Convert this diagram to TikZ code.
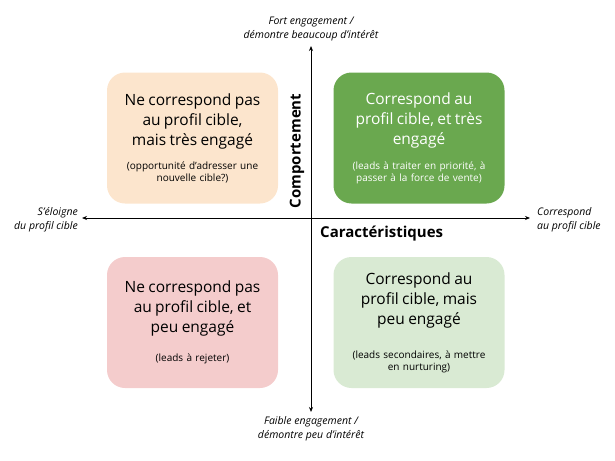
\documentclass[tikz,border=0pt]{standalone}
\usepackage{fontspec}
\setmainfont{Open Sans}
\usetikzlibrary{arrows.meta, positioning}

\definecolor{peach}{HTML}{FCE5CD}
\definecolor{leafgreen}{HTML}{6AA84F}
\definecolor{rosepink}{HTML}{F4CCCC}
\definecolor{palegreen}{HTML}{D9EAD3}

\newcommand{\quadtext}[3]{\fontsize{15.5}{20}\selectfont #1\par\vspace{#2}\fontsize{10}{15}\selectfont #3}

\begin{document}
\begin{tikzpicture}[
    x=1pt, y=-1pt,
    >=Stealth,
    quadrant/.style={rectangle, rounded corners=18pt, minimum width=171pt, minimum height=131pt, text width=165pt, align=center, inner sep=0pt},
    axislabel/.style={font=\fontsize{10.5}{14}\selectfont\itshape, inner sep=0pt},
    axistitle/.style={font=\fontsize{15}{16}\selectfont\bfseries, inner sep=0pt},
    axis/.style={{Stealth[length=5pt,width=4pt]}-{Stealth[length=5pt,width=4pt]}, line width=0.8pt}
]
\useasboundingbox (0,0) rectangle (615,460);

% axes
\coordinate (up) at (311,46);
\coordinate (down) at (311,412);
\coordinate (west) at (82,218);
\coordinate (east) at (530,218);
\draw[axis] (down) -- (up);
\draw[axis] (west) -- (east);

\node[axislabel, align=center, anchor=south] (fort) at (311,41) {Fort engagement /\\démontre beaucoup d’intérêt};
\node[axislabel, align=center, anchor=north] (faible) at (311,416) {Faible engagement /\\démontre peu d’intérêt};
\node[axislabel, align=right, anchor=east] (eloigne) at (78,220) {S’éloigne\\du profil cible};
\node[axislabel, align=left, anchor=west] (correspond) at (537,220) {Correspond\\au profil cible};

\node[axistitle, rotate=90] (comportement) at (297,151) {Comportement};
\node[axistitle, anchor=west] (caract) at (320,234) {Caractéristiques};

% quadrants
\node[quadrant, fill=peach] (engage) at (192.5,138) {\quadtext{Ne correspond pas\\au profil cible,\\mais très engagé}{9pt}{(opportunité d’adresser une\\nouvelle cible?)}};
\node[quadrant, fill=leafgreen, text=white] (priorite) at (419,138) {\quadtext{Correspond au\\profil cible, et très\\engagé}{10pt}{(leads à traiter en priorité, à\\passer à la force de vente)}};
\node[quadrant, fill=rosepink] (rejet) at (192.5,322.5) {\quadtext{Ne correspond pas\\au profil cible, et\\peu engagé}{17pt}{(leads à rejeter)}};
\node[quadrant, fill=palegreen] (nurturing) at (419,322.5) {\quadtext{Correspond au\\profil cible, mais\\peu engagé}{19pt}{(leads secondaires, à mettre\\en nurturing)}};
\end{tikzpicture}
\end{document}
